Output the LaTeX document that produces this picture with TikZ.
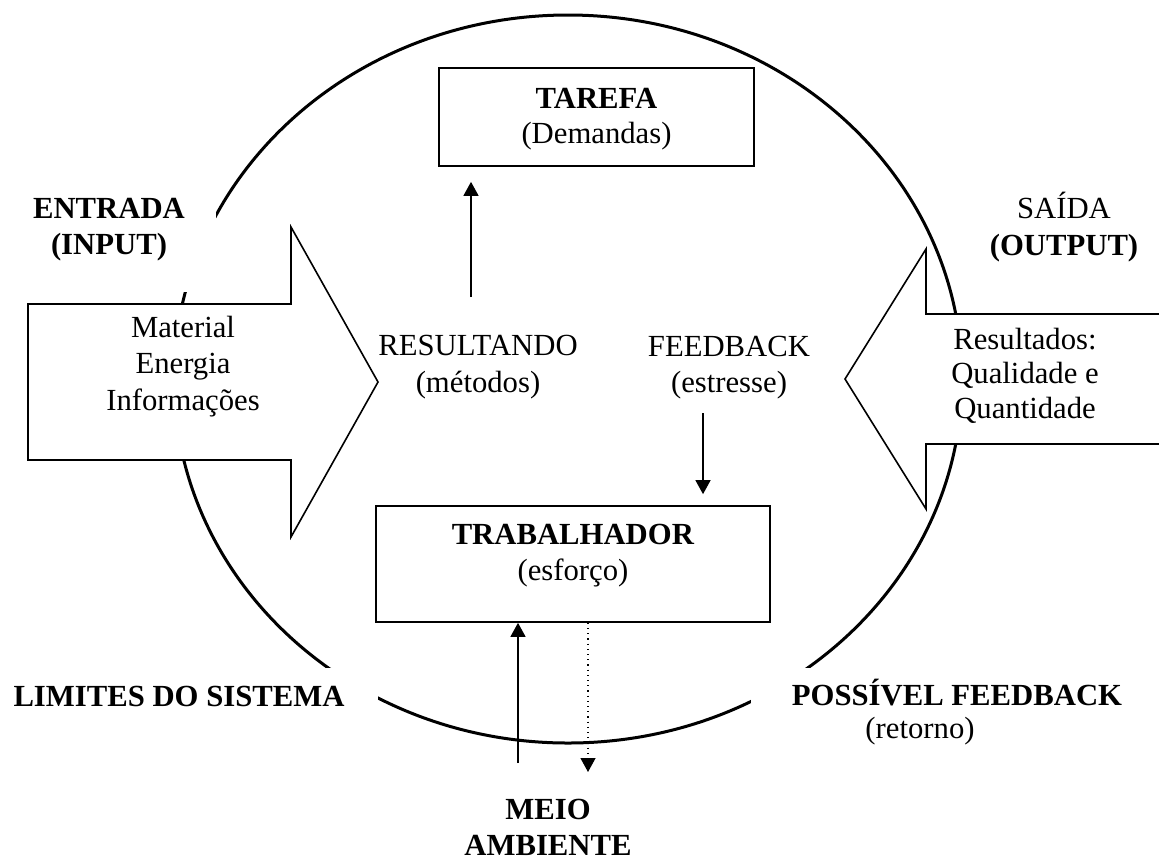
\documentclass[tikz,border=0pt]{standalone}
\usepackage{fontspec}
\setmainfont{Liberation Serif}
\usetikzlibrary{arrows.meta}
\begin{document}
\begin{tikzpicture}[x=0.5pt,y=-0.5pt,
  txt/.style={font=\fontsize{15.35}{#1}\selectfont, inner sep=0pt, align=center, anchor=base},
  txt/.default=18.25pt,
  boxnode/.style={draw, line width=0.85pt, inner sep=0pt},
  bigarrow/.style={draw, line width=0.8pt, fill=white, line join=miter},
  conn/.style={line width=0.7pt, -{Triangle[width=7.5pt,length=7pt]}},
]
\useasboundingbox (0,0) rectangle (1159,863);
\fill[white] (0,0) rectangle (1159,863);
% system boundary
\draw[line width=1.5pt] (568,379) ellipse [x radius=394, y radius=364];
% white label backgrounds covering the boundary
\fill[white] (0,175) rectangle (216,292);
\fill[white] (0,668) rectangle (378,745);
\fill[white] (751,668) rectangle (1159,760);
% input / output arrows
\draw[bigarrow] (28,304) -- (291,304) -- (291,227) -- (378,382) -- (291,537) -- (291,460) -- (28,460) -- cycle;
\draw[bigarrow] (1170,314) -- (926,314) -- (926,249) -- (845,379) -- (926,509) -- (926,444) -- (1170,444);
% boxes
\node[boxnode, minimum width=157.5pt, minimum height=49pt] (tarefa) at (596.5,117) {};
\node[txt=17.5pt] (tarefaL) at (596.5,143) {\textbf{TAREFA}\\(Demandas)};
\node[boxnode, minimum width=197pt, minimum height=58pt] (trab) at (573,564) {};
\node[txt=18pt] (trabL) at (573,580) {\textbf{TRABALHADOR}\\(esforço)};
% texts
\node[txt] (inL) at (183,410) {Material\\Energia\\Informações};
\node[txt=17.25pt] (outL) at (1025,418) {Resultados:\\Qualidade e\\Quantidade};
\node[txt] (resL) at (478,392) {RESULTANDO\\(métodos)};
\node[txt=17.75pt] (fbL) at (729,392) {FEEDBACK\\(estresse)};
\node[txt=18pt] (entL) at (109,254) {\textbf{ENTRADA}\\\textbf{(INPUT)}};
\node[txt] (saiL) at (1064,255) {SAÍDA\\\textbf{(OUTPUT)}};
\node[txt] (limL) at (179,706) {\textbf{LIMITES DO SISTEMA}};
\node[txt] (posL) at (957,705) {\textbf{POSSÍVEL FEEDBACK}};
\node[txt] (retL) at (920,738) {(retorno)};
\node[txt=18pt] (meioL) at (548,855) {\textbf{MEIO}\\\textbf{AMBIENTE}};
% connectors
\coordinate (resTop) at (471,297);
\draw[conn, shorten >=7.5pt] (resTop) -- (resTop |- tarefa.south);
\coordinate (fbTop) at (703,413);
\draw[conn, shorten >=5.5pt] (fbTop) -- (fbTop |- trab.north);
\coordinate (envUp) at (518,763);
\draw[conn] (envUp) -- (envUp |- trab.south);
\coordinate (envDown) at (588,772);
\draw[dotted, line width=0.6pt, -{Triangle[width=7.5pt,length=7pt]}] (envDown |- trab.south) -- (envDown);
\end{tikzpicture}
\end{document}
